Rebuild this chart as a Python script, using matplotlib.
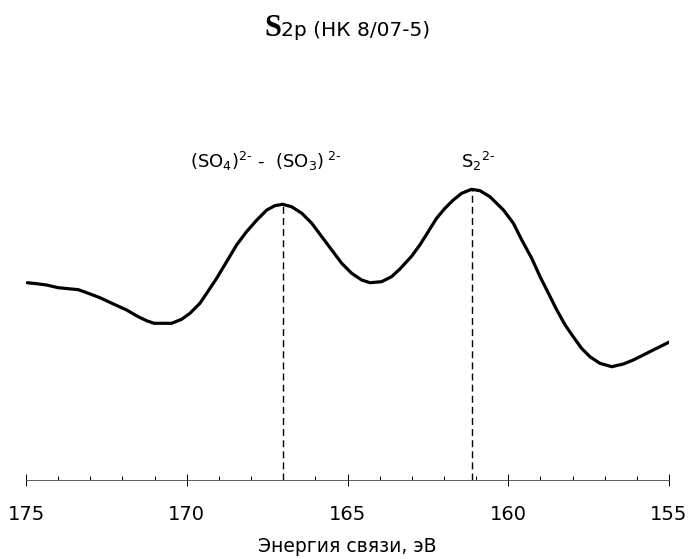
import matplotlib.pyplot as plt
from matplotlib.ticker import MultipleLocator

plt.rcParams['font.family'] = ['DejaVu Sans']
plt.rcParams['mathtext.fontset'] = 'dejavusans'

# S2p spectrum, binding energy (eV) vs intensity (arb. units)
energy = [174.96, 174.67, 174.36, 174.00, 173.68, 173.37, 173.06, 172.70, 172.28,
          171.87, 171.51, 171.25, 171.02, 170.47, 170.16, 169.90, 169.59, 169.38,
          169.07, 168.76, 168.45, 168.14, 167.82, 167.51, 167.26, 167.02, 166.74,
          166.42, 166.11, 165.80, 165.49, 165.18, 164.87, 164.56, 164.30, 163.94,
          163.63, 163.37, 163.00, 162.75, 162.49, 162.23, 161.97, 161.71, 161.45,
          161.14, 160.88, 160.57, 160.15, 159.84, 159.58, 159.27, 159.01, 158.75,
          158.49, 158.23, 157.98, 157.72, 157.46, 157.15, 156.78, 156.42, 156.11,
          155.80, 155.49, 154.97]
intensity = [197.3, 196.3, 195.0, 192.3, 191.3, 190.3, 186.7, 182.3, 176.0,
             170.0, 163.3, 159.3, 156.7, 156.7, 160.7, 166.7, 176.7, 186.7,
             201.7, 218.3, 235.0, 248.3, 260.0, 270.0, 274.3, 275.7, 273.3,
             266.7, 256.7, 243.3, 230.0, 216.7, 206.7, 200.0, 197.3, 198.3,
             203.3, 211.0, 224.0, 235.0, 248.3, 261.7, 271.7, 280.0, 286.7,
             290.7, 289.3, 283.3, 270.0, 256.7, 240.0, 221.7, 203.3, 186.7,
             170.0, 155.0, 143.3, 131.7, 123.3, 116.7, 113.3, 116.0, 120.0,
             125.0, 130.0, 138.3]

peak_pos = [167.02, 161.14]
peak_height = [275.7, 290.7]
peak_labels = [r'(SO$_4$)$^{2\text{-}}$ -  (SO$_3$)$^{\ 2\text{-}}$', r'S$_2$$^{2\text{-}}$']
label_x = [167.55, 160.95]

fig = plt.figure(figsize=(6.91, 5.59), dpi=100)
ax = fig.add_axes([26 / 691, 79 / 559, 643 / 691, 380 / 559])

ax.plot(energy, intensity, color='black', linewidth=2.3,
        solid_joinstyle='round', solid_capstyle='round')
for pos, h in zip(peak_pos, peak_height):
    ax.plot([pos, pos], [0, h], color='black', linewidth=1.0, linestyle=(0, (5, 3)))
for lx, lab in zip(label_x, peak_labels):
    ax.text(lx, 312, lab, ha='center', va='baseline', fontsize=13)

ax.set_xlim(175, 155)
ax.set_ylim(0, 380)
for side in ['top', 'right', 'left']:
    ax.spines[side].set_visible(False)
ax.spines['bottom'].set_linewidth(0.6)
ax.spines['bottom'].set_color('#444444')
ax.set_yticks([])
ax.xaxis.set_major_locator(MultipleLocator(5))
ax.xaxis.set_minor_locator(MultipleLocator(1))
ax.tick_params(axis='x', which='major', direction='inout', length=8, width=0.7,
               pad=14, labelsize=14)
ax.tick_params(axis='x', which='minor', direction='in', length=3, width=0.7)
ax.set_xlabel('Энергия связи, эВ', fontsize=13.5, labelpad=9)

fig.text(281 / 691, 1 - 36 / 559, 'S', ha='right', va='baseline', fontsize=22,
         family='Liberation Serif', fontweight='bold')
fig.text(281 / 691, 1 - 36 / 559, '2p (НК 8/07-5)', ha='left', va='baseline', fontsize=14.5)

fig.savefig('out.png', dpi=100)
